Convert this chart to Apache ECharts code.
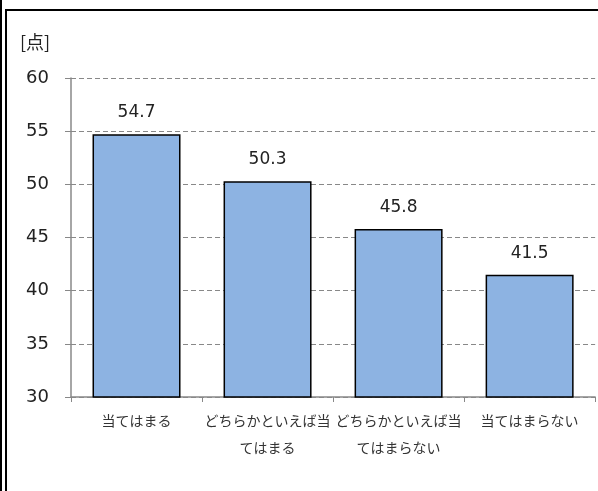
<!DOCTYPE html>
<html>
<head>
<meta charset="utf-8">
<script src="https://cdn.jsdelivr.net/npm/echarts@6/dist/echarts.min.js"></script>
<style>
  html, body { margin: 0; padding: 0; background: #fff; }
  #frame { position: absolute; left: 0; top: 0; width: 598px; height: 491px; }
  #outer { position: absolute; left: 0; top: 0; width: 2px; height: 491px; background: #000; }
  #inner { position: absolute; left: 5px; top: 9px; width: 593px; height: 482px;
           border-left: 2px solid #000; border-top: 2px solid #000; box-sizing: border-box; }
  #main { position: absolute; left: 0; top: 0; width: 598px; height: 491px; }
</style>
</head>
<body>
<div id="frame"><div id="outer"></div><div id="inner"></div></div>
<div id="main"></div>
<script>
// カテゴリと値
var categories = ['当てはまる', 'どちらかといえば当てはまる', 'どちらかといえば当てはまらない', '当てはまらない'];
var scores = [54.7, 50.3, 45.8, 41.5];
var yTicks = [30, 35, 40, 45, 50, 55, 60];

var chart = echarts.init(document.getElementById('main'), null, { renderer: 'canvas' });
var font = '"DejaVu Sans", Verdana, "Noto Sans CJK JP", sans-serif';
var jpFont = '"Noto Sans CJK JP", sans-serif';

var option = {
  animation: false,
  title: {
    text: '[点]',
    left: 15,
    top: 28,
    textStyle: { fontSize: 18, fontWeight: 'normal', color: '#222', fontFamily: jpFont }
  },
  grid: { left: 71, right: -2, top: 78, bottom: 94 },
  xAxis: {
    type: 'category',
    data: categories,
    axisLine: { lineStyle: { color: '#888', width: 1.5 } },
    axisTick: { show: true, length: 5, lineStyle: { color: '#888' } },
    axisLabel: {
      color: '#333',
      fontSize: 14,
      fontFamily: jpFont,
      margin: 10,
      width: 132,
      overflow: 'break',
      lineHeight: 27,
      interval: 0
    }
  },
  yAxis: {
    type: 'value',
    min: yTicks[0],
    max: yTicks[yTicks.length - 1],
    interval: 5,
    axisLine: { show: true, lineStyle: { color: '#888', width: 1.5 } },
    axisTick: { show: true, length: 6, lineStyle: { color: '#888' } },
    axisLabel: { color: '#222', fontSize: 18, fontFamily: font, margin: 22 },
    splitLine: { lineStyle: { color: '#888', type: [5, 3], width: 1 } }
  },
  series: [{
    type: 'bar',
    data: scores,
    barWidth: 88,
    itemStyle: { color: '#8DB3E2', borderColor: '#000', borderWidth: 1.5 },
    label: {
      show: true,
      position: 'top',
      distance: 13,
      color: '#222',
      fontSize: 17,
      fontFamily: font,
      formatter: function (p) { return p.value.toFixed(1); }
    }
  }]
};
chart.setOption(option);
</script>
</body>
</html>
